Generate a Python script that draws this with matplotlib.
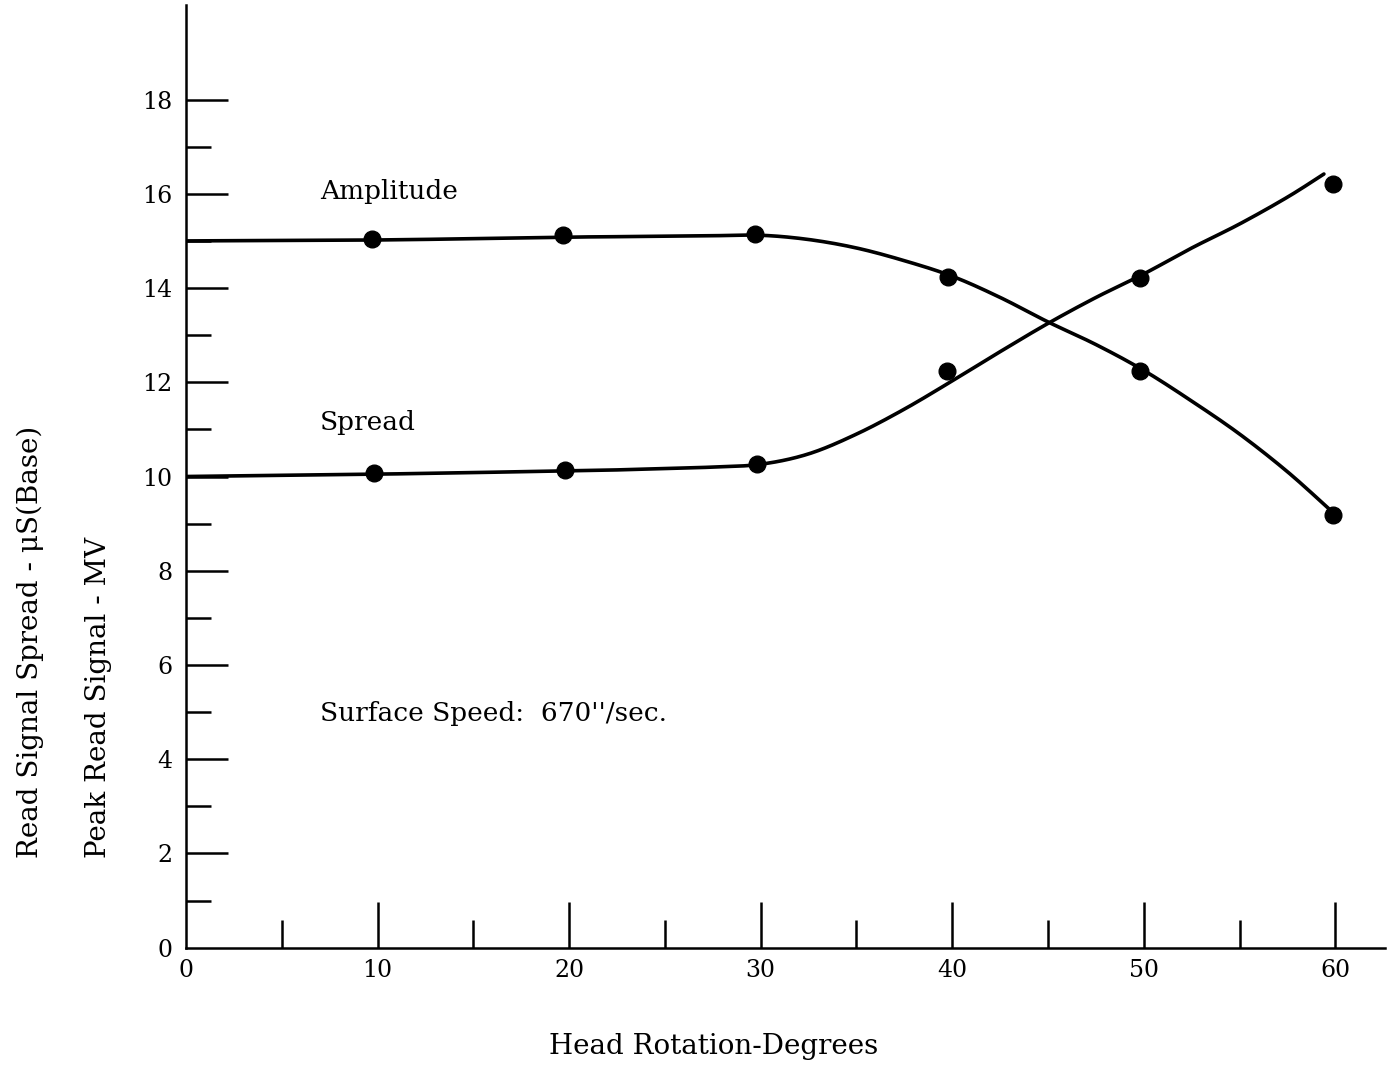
import numpy as np
import matplotlib
matplotlib.use("Agg")
import matplotlib.pyplot as plt
from matplotlib.ticker import FixedLocator

amp_x = [9.7, 19.7, 29.7, 39.8, 49.8, 59.9]
amp_y = [15.04, 15.12, 15.14, 14.23, 12.24, 9.19]
spread_x = [9.8, 19.8, 29.8, 39.7, 49.8, 59.9]
spread_y = [10.08, 10.14, 10.27, 12.24, 14.21, 16.20]

# hand drawn curves
amp_curve_x = [0, 10, 20, 22.5, 25, 27.5, 30, 32.5, 35, 37.5, 40, 42.5, 45, 47.5, 50, 52.5, 55, 57.5, 59.7]
amp_curve_y = [15.0, 15.02, 15.08, 15.09, 15.1, 15.11, 15.12, 15.03, 14.85, 14.58, 14.25, 13.8, 13.28, 12.8,
               12.25, 11.6, 10.9, 10.1, 9.3]
spread_curve_x = [0, 10, 20, 22.5, 25, 27.5, 30, 32.5, 35, 37.5, 40, 42.5, 45, 47.5, 50, 52.5, 55, 57.5, 59.4]
spread_curve_y = [10.0, 10.05, 10.12, 10.14, 10.17, 10.2, 10.26, 10.48, 10.9, 11.43, 12.03, 12.65, 13.25, 13.8,
                  14.3, 14.85, 15.36, 15.93, 16.42]

x_ticks = [0, 10, 20, 30, 40, 50, 60]
x_minor = [5, 15, 25, 35, 45, 55]
y_ticks = [0, 2, 4, 6, 8, 10, 12, 14, 16, 18]
y_minor = [1, 3, 5, 7, 9, 11, 13, 15, 17]


def smooth(xs, ys, n=20):
    # catmull-rom through the traced points, just so the pen line has no kinks
    p = np.column_stack([xs, ys]).astype(float)
    p = np.vstack([p[0], p, p[-1]])
    out = []
    t = np.linspace(0, 1, n, endpoint=False)[:, None]
    for i in range(1, len(p) - 2):
        p0, p1, p2, p3 = p[i - 1], p[i], p[i + 1], p[i + 2]
        out.append(0.5 * ((2 * p1) + (-p0 + p2) * t + (2 * p0 - 5 * p1 + 4 * p2 - p3) * t ** 2
                          + (-p0 + 3 * p1 - 3 * p2 + p3) * t ** 3))
    out.append(p[-2][None, :])
    out = np.vstack(out)
    return out[:, 0], out[:, 1]


plt.rcParams['font.family'] = ['DejaVu Serif']

fig = plt.figure(figsize=(13.88, 10.66), dpi=100)
ax = fig.add_axes([0.134, 0.111, 0.864, 0.884])

ax.plot(*smooth(amp_curve_x, amp_curve_y), color='black', lw=2.6, solid_capstyle='round')
ax.plot(*smooth(spread_curve_x, spread_curve_y), color='black', lw=2.6, solid_capstyle='round')
ax.plot(amp_x, amp_y, 'o', color='black', ms=12)
ax.plot(spread_x, spread_y, 'o', color='black', ms=12)

ax.set_xlim(0, 62.6)
ax.set_ylim(0, 20)

for side in ['top', 'right']:
    ax.spines[side].set_visible(False)
for side in ['left', 'bottom']:
    ax.spines[side].set_linewidth(1.8)

ax.set_xticks(x_ticks)
ax.set_yticks(y_ticks)
ax.xaxis.set_minor_locator(FixedLocator(x_minor))
ax.yaxis.set_minor_locator(FixedLocator(y_minor))
ax.tick_params(axis='y', which='major', direction='in', length=30, width=1.8,
               labelsize=17, pad=10)
ax.tick_params(axis='y', which='minor', direction='in', length=18, width=1.8)
ax.tick_params(axis='x', which='major', direction='in', length=33, width=1.8,
               labelsize=17, pad=8)
ax.tick_params(axis='x', which='minor', direction='in', length=20, width=1.8)
ax.yaxis.get_major_ticks()[0].tick1line.set_visible(False)
ax.xaxis.get_major_ticks()[0].tick1line.set_visible(False)

ax.text(7.0, 16.05, 'Amplitude', fontsize=19, va='center')
ax.text(7.0, 11.15, 'Spread', fontsize=19, va='center')
ax.text(7.0, 4.98, "Surface Speed:  670''/sec.", fontsize=19, va='center')

fig.text(0.022, 0.195, 'Read Signal Spread - \u03bcS(Base)', rotation=90,
         ha='center', va='bottom', fontsize=20)
fig.text(0.071, 0.195, 'Peak Read Signal - MV', rotation=90,
         ha='center', va='bottom', fontsize=20)
fig.text(0.514, 0.006, 'Head Rotation-Degrees', ha='center', va='bottom', fontsize=20)

fig.savefig('out.png', dpi=100)
